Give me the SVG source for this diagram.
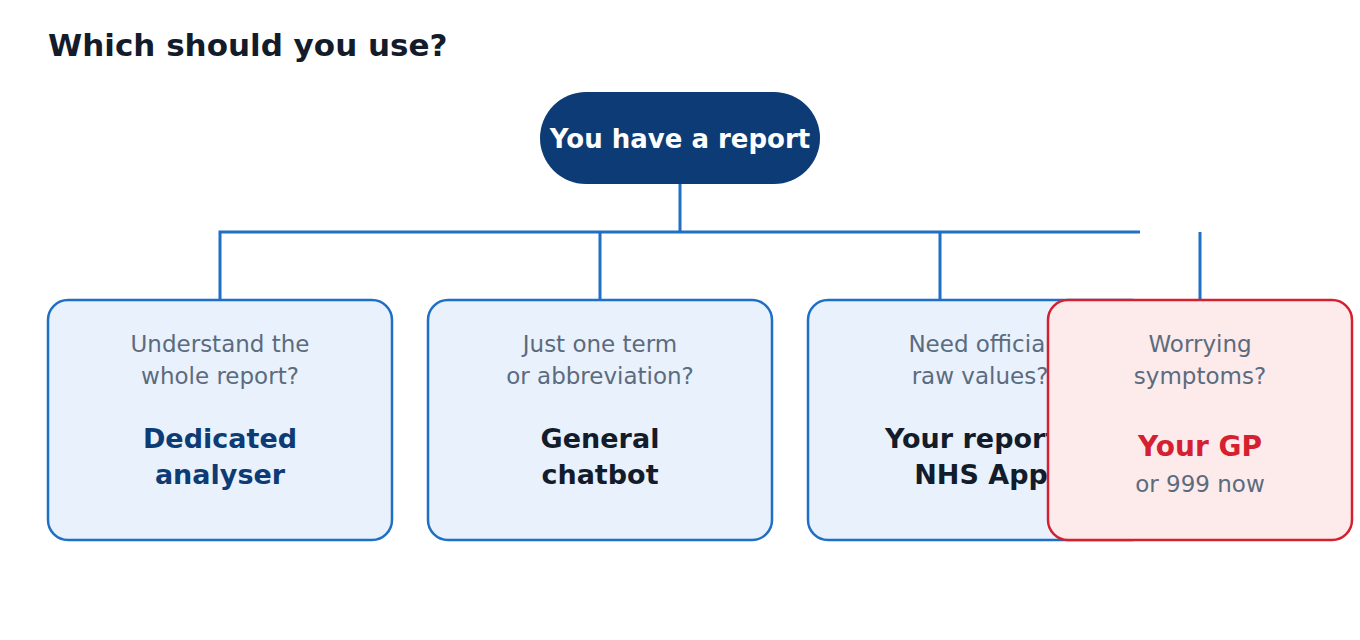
<svg xmlns="http://www.w3.org/2000/svg" width="1360" height="640" viewBox="0 0 1360 640">
<style>
text{font-family:"DejaVu Sans","Noto Sans",sans-serif;text-anchor:middle}
.q{font-size:23px;fill:#5b6b7e}
.a{font-size:27px;font-weight:bold;fill:#131c2b}
.box{fill:#e9f1fc;stroke:#1f6fc5;stroke-width:2.5}
.conn{stroke:#1f6fc5;stroke-width:3;fill:none}
</style>
<rect width="1360" height="640" fill="#ffffff"/>
<text x="48" y="56" style="font-size:31px;font-weight:bold;fill:#131c2b;text-anchor:start">Which should you use?</text>
<g id="connectors">
<path class="conn" d="M680 184V232M220 300V232H1140M600 232V300M940 232V300M1200 232V300"/>
</g>
<g id="start">
<rect x="540" y="92" width="280" height="92" rx="46" fill="#0d3b75"/>
<text x="680" y="148" style="font-size:26px;font-weight:bold;fill:#ffffff">You have a report</text>
</g>
<g id="node-analyser">
<rect class="box" x="48" y="300" width="344" height="240" rx="20"/>
<text class="q" x="220" y="352">Understand the</text>
<text class="q" x="220" y="384">whole report?</text>
<text class="a" x="220" y="448" style="fill:#0d3b75">Dedicated</text>
<text class="a" x="220" y="484" style="fill:#0d3b75">analyser</text>
</g>
<g id="node-chatbot">
<rect class="box" x="428" y="300" width="344" height="240" rx="20"/>
<text class="q" x="600" y="352">Just one term</text>
<text class="q" x="600" y="384">or abbreviation?</text>
<text class="a" x="600" y="448">General</text>
<text class="a" x="600" y="484">chatbot</text>
</g>
<g id="node-nhs">
<rect class="box" x="808" y="300" width="344" height="240" rx="20"/>
<text class="q" x="980" y="352">Need official</text>
<text class="q" x="980" y="384">raw values?</text>
<text class="a" x="885" y="448" style="text-anchor:start">Your report</text>
<text class="a" x="981" y="484">NHS App</text>
</g>
<g id="node-gp">
<rect x="1048" y="300" width="304" height="240" rx="20" fill="#fdeaea" stroke="#d42030" stroke-width="2.5"/>
<text class="q" x="1200" y="352">Worrying</text>
<text class="q" x="1200" y="384">symptoms?</text>
<text class="a" x="1200" y="456" style="font-size:28px;fill:#d42030">Your GP</text>
<text class="q" x="1200" y="492">or 999 now</text>
</g>
</svg>
